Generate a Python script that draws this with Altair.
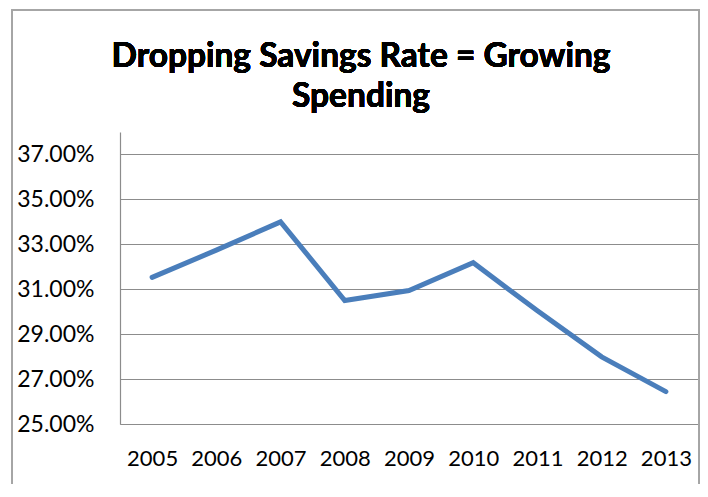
import altair as alt
import pandas as pd

years = ["2005", "2006", "2007", "2008", "2009", "2010", "2011", "2012", "2013"]
rates = [0.3153, 0.3274, 0.3400, 0.3050, 0.3094, 0.3218, 0.3004, 0.2799, 0.2644]
y_ticks = [0.25, 0.27, 0.29, 0.31, 0.33, 0.35, 0.37]
title_lines = ["Dropping Savings Rate = Growing", "Spending"]

df = pd.DataFrame({"year": years, "rate": rates})

W, H = 578, 292
FONT = "Lato"

line = alt.Chart(df).mark_line(color="#4A7EBB", strokeWidth=5, strokeCap="round", strokeJoin="miter").encode(
    x=alt.X("year:O", sort=years,
            scale=alt.Scale(paddingInner=0, paddingOuter=0),
            axis=alt.Axis(title=None, labelAngle=0, ticks=False, grid=False,
                          domainColor="#8C8C8C", domainWidth=1.2,
                          labelFont=FONT, labelFontSize=22, labelColor="#000000",
                          labelPadding=24)),
    y=alt.Y("rate:Q",
            scale=alt.Scale(domain=[0.25, 0.38], nice=False, zero=False),
            axis=alt.Axis(title=None, values=y_ticks, format=".2%", ticks=False,
                          grid=True, gridColor="#8C8C8C", gridWidth=1.2,
                          domainColor="#8C8C8C", domainWidth=1.2,
                          labelFont=FONT, labelFontSize=23, labelColor="#000000",
                          labelPadding=26))
)

frame = alt.Chart(df).mark_rect(fill=None, stroke="#A6A6A6", strokeWidth=1.2).encode(
    x=alt.value(-108), x2=alt.value(W + 1), y=alt.value(-122), y2=alt.value(H + 120)
)

title = alt.Chart(df).mark_text(
    text=title_lines, font=FONT, fontSize=33.5, fontWeight="bold", color="#000000",
    align="center", baseline="alphabetic", lineHeight=40
).encode(x=alt.value(241), y=alt.value(-65))

chart = alt.layer(frame, line, title).properties(
    width=W, height=H,
    autosize=alt.AutoSizeParams(type="none"),
    padding={"left": 112, "top": 124, "right": 2, "bottom": 60},
    background="#FFFFFF",
).configure_view(stroke=None)

chart.save("out.html", embed_options={"renderer": "svg", "actions": False})
